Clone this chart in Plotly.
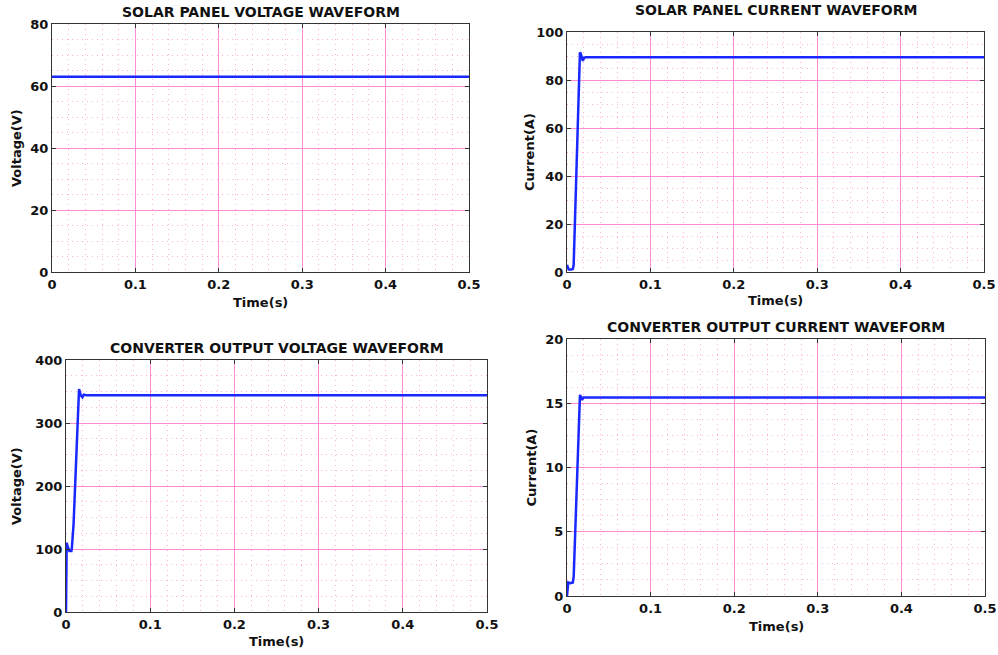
import plotly.graph_objects as go

# ---- data ----
t_pv_v = [0.0, 0.1, 0.2, 0.3, 0.4, 0.5]
pv_voltage = [63, 63, 63, 63, 63, 63]

t_pv_i = [0.0, 0.001, 0.002, 0.005, 0.007, 0.008, 0.010, 0.012, 0.014, 0.0155, 0.0165, 0.018, 0.019, 0.0205, 0.023, 0.1, 0.2, 0.3, 0.4, 0.5]
pv_current = [3, 1.5, 1, 1, 1.2, 3, 25, 50, 75, 91.5, 91, 88.5, 88, 89.3, 89.5, 89.5, 89.5, 89.5, 89.5, 89.5]

t_conv_v = [0.0, 0.0002, 0.0008, 0.002, 0.004, 0.0064, 0.007, 0.009, 0.011, 0.013, 0.0145, 0.0155, 0.0175, 0.0195, 0.021, 0.024, 0.1, 0.2, 0.3, 0.4, 0.5]
conv_voltage = [0, 60, 110, 104, 97, 97, 102, 140, 210, 290, 350, 354, 344, 341, 345, 344, 344, 344, 344, 344, 344]

t_conv_i = [0.0, 0.0005, 0.0015, 0.004, 0.007, 0.008, 0.010, 0.012, 0.014, 0.0155, 0.0165, 0.018, 0.0195, 0.1, 0.2, 0.3, 0.4, 0.5]
conv_current = [0, 0.8, 1.05, 1.0, 1.05, 1.5, 5, 9.5, 13.5, 15.65, 15.5, 15.25, 15.45, 15.45, 15.45, 15.45, 15.45, 15.45]

titles = ["SOLAR PANEL VOLTAGE WAVEFORM", "SOLAR PANEL CURRENT WAVEFORM",
          "CONVERTER OUTPUT VOLTAGE WAVEFORM", "CONVERTER OUTPUT CURRENT WAVEFORM"]
ylabels = ["Voltage(V)", "Current(A)", "Voltage(V)", "Current(A)"]
xlabel = "Time(s)"
yranges = [(0, 80, 20, 5), (0, 100, 20, 5), (0, 400, 100, 25), (0, 20, 5, 1.25)]

# body margin is removed by a small post script, so the figure fills the window
W, H = 998, 655
# plot boxes in window pixels: (left, right, top, bottom)
boxes = [(52, 469, 24, 272), (567, 984, 32, 272), (66, 487, 360, 612), (567, 985, 339, 596)]
title_y = [12, 10, 348, 327]
xlab_y = [302, 300, 641, 626]
ylab_x = [16, 530, 16, 531]

def px(x):
    return x / W

def py(y):
    return 1 - y / H

series = [(t_pv_v, pv_voltage), (t_pv_i, pv_current), (t_conv_v, conv_voltage), (t_conv_i, conv_current)]

FONT = "DejaVu Sans"
MAJOR = "rgb(255,140,210)"
MINOR = "rgb(255,175,222)"

fig = go.Figure()
layout = dict(width=W, height=H, margin=dict(l=0, r=0, t=0, b=0, autoexpand=False),
              paper_bgcolor="white", plot_bgcolor="white", showlegend=False,
              font=dict(family=FONT, size=13, color="#222"))
annotations = []
for k in range(4):
    l, r, tp, b = boxes[k]
    xa = "xaxis" if k == 0 else f"xaxis{k+1}"
    ya = "yaxis" if k == 0 else f"yaxis{k+1}"
    xr = "x" if k == 0 else f"x{k+1}"
    yr = "y" if k == 0 else f"y{k+1}"
    tx, vy = series[k]
    fig.add_trace(go.Scatter(x=tx, y=vy, mode="lines", xaxis=xr, yaxis=yr,
                             line=dict(color="rgb(25,40,255)", width=2.5)))
    y0, y1, dy, mdy = yranges[k]
    common = dict(showline=True, linecolor="#333", linewidth=1.2, mirror="ticks",
                  ticks="inside", ticklen=4, tickcolor="#333", zeroline=False,
                  showgrid=True, gridcolor=MAJOR, gridwidth=1, automargin=False,
                  tickfont=dict(family=FONT, size=13, color="#111", weight="bold"))
    layout[xa] = dict(common, domain=[px(l), px(r)], anchor=yr, range=[0, 0.5], dtick=0.1,
                      tick0=0,
                      minor=dict(dtick=0.02, showgrid=True, gridcolor=MINOR, griddash="1px,4px", gridwidth=1, ticks=""))
    layout[ya] = dict(common, domain=[py(b), py(tp)], anchor=xr, range=[y0, y1], dtick=dy, tick0=0,
                      minor=dict(dtick=mdy, showgrid=True, gridcolor=MINOR, griddash="1px,4px", gridwidth=1, ticks=""))
    annotations.append(dict(text=f"<b>{titles[k]}</b>", x=px((l + r) / 2), y=py(title_y[k]),
                            xref="paper", yref="paper", showarrow=False, xanchor="center", yanchor="middle",
                            font=dict(family=FONT, size=14, color="#111")))
    annotations.append(dict(text=f"<b>{xlabel}</b>", x=px((l + r) / 2), y=py(xlab_y[k]),
                            xref="paper", yref="paper", showarrow=False, xanchor="center", yanchor="middle",
                            font=dict(family=FONT, size=13, color="#111")))
    annotations.append(dict(text=f"<b>{ylabels[k]}</b>", x=px(ylab_x[k]), y=py((tp + b) / 2),
                            xref="paper", yref="paper", showarrow=False, xanchor="center", yanchor="middle",
                            textangle=-90, font=dict(family=FONT, size=13, color="#111")))
layout["annotations"] = annotations
fig.update_layout(**layout)
fig.write_html("out.html",
               config={"displayModeBar": False},
               post_script="document.body.style.margin='0';document.body.style.overflow='hidden';")
